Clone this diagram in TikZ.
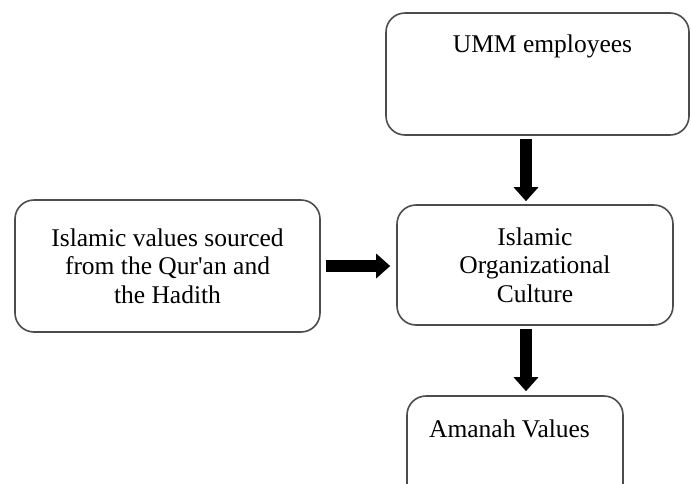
\documentclass[tikz,border=0pt]{standalone}
\usepackage{fontspec}
\setmainfont{Liberation Serif}
\usetikzlibrary{arrows.meta}

\begin{document}
\begin{tikzpicture}[x=1pt,y=-1pt,
    box/.style={draw=black!70,line width=1.6pt,rounded corners=19pt,fill=white,
      inner sep=0pt,align=center,font=\fontsize{25.5}{28.5}\selectfont},
    txt/.style={inner sep=0pt,anchor=base,font=\fontsize{25.5}{28.5}\selectfont},
    bigarrow/.style={line width=12pt,-{Triangle[length=14pt,width=24pt]}}]
			\clip (0,0) rectangle (691,483);
			\fill[white] (0,0) rectangle (691,483);
			
			\node[box,minimum width=303pt,minimum height=122pt] (umm) at (537.5,74) {};
			\node[txt] (ummtext) at (542.5,52) {UMM employees};
			
			\node[box,minimum width=305pt,minimum height=132pt] (source) at (167.5,266)
				{Islamic values sourced\\from the Qur\textquotesingle an and\\the Hadith};
			
			\node[box,minimum width=276pt,minimum height=120pt] (culture) at (535,265)
				{Islamic\\Organizational\\Culture};
			
			\node[box,minimum width=216pt,minimum height=110pt] (amanah) at (515,451) {};
			\node[txt] (amanahtext) at (509.5,437) {Amanah Values};
			
			% arrows between the boxes
			\coordinate (c1) at ([xshift=-11.5pt]umm.south);
			\coordinate (c2) at ([xshift=-9pt]culture.south);
			\draw[bigarrow,shorten <=3pt,shorten >=3pt] (c1) -- (c1 |- culture.north);
			\draw[bigarrow,shorten <=5pt,shorten >=6pt] (source.east) -- (source.east -| culture.west);
			\draw[bigarrow,shorten <=3pt,shorten >=4pt] (c2) -- (c2 |- amanah.north);
		\end{tikzpicture}
\end{document}
